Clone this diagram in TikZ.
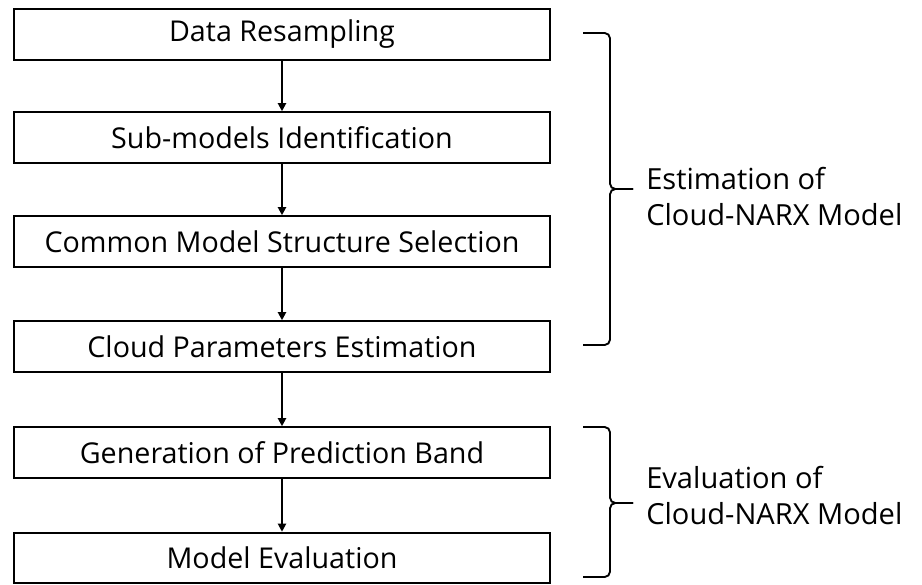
\documentclass[tikz,border=0pt]{standalone}
\usepackage{fontspec}
\setmainfont{Open Sans}
\usetikzlibrary{arrows.meta}
\begin{document}
\begin{tikzpicture}[x=0.75pt,y=-0.75pt,>={Triangle[length=6pt,width=6pt]}]
        \tikzstyle{stage}=[rectangle,draw=black,line width=1.4pt,minimum width=402pt,minimum height=38pt,inner sep=0pt,font=\fontsize{21.5}{25}\selectfont]
        \tikzstyle{edge}=[draw,->,line width=1.4pt]
        \tikzstyle{brace}=[draw,line width=1.4pt,rounded corners=4pt]
        \tikzstyle{part}=[anchor=west,align=left,inner sep=0pt,font=\fontsize{21.8}{27}\selectfont]
        \useasboundingbox (0,0) rectangle (922,585);
       \begin{scope}
         \node [stage] (s1) at (282,34.5) {Data Resampling};
         \node [stage] (s2) at (282,137.5) {Sub-models Identification};
         \node [stage] (s3) at (282,241.5) {Common Model Structure Selection};
         \node [stage] (s4) at (282,346.5) {Cloud Parameters Estimation};
         \node [stage] (s5) at (282,452.5) {Generation of Prediction Band};
         \node [stage] (s6) at (282,558) {Model Evaluation};

         \path[edge] (s1) edge (s2);
         \path[edge] (s2) edge (s3);
         \path[edge] (s3) edge (s4);
         \path[edge] (s4) edge (s5);
         \path[edge] (s5) edge (s6);
        \end{scope}

        % braces
        \coordinate (b1top) at (583,33);
        \coordinate (b1bot) at (583,345);
        \coordinate (b1mid) at (610,189);
        \coordinate (b1tip) at (633,189);
        \coordinate (b2top) at (583,427);
        \coordinate (b2bot) at (583,577);
        \coordinate (b2mid) at (610,503);
        \coordinate (b2tip) at (633,503);
        \path[brace] (b1top) -| (b1mid) -- (b1tip);
        \path[brace] (b1bot) -| (b1mid) -- (b1tip);
        \path[brace] (b2top) -| (b2mid) -- (b2tip);
        \path[brace] (b2bot) -| (b2mid) -- (b2tip);

        \node [part] (est) at (646,197) {Estimation of\\Cloud-NARX Model};
        \node [part] (eva) at (646,496) {Evaluation of\\Cloud-NARX Model};
      \end{tikzpicture}
\end{document}
